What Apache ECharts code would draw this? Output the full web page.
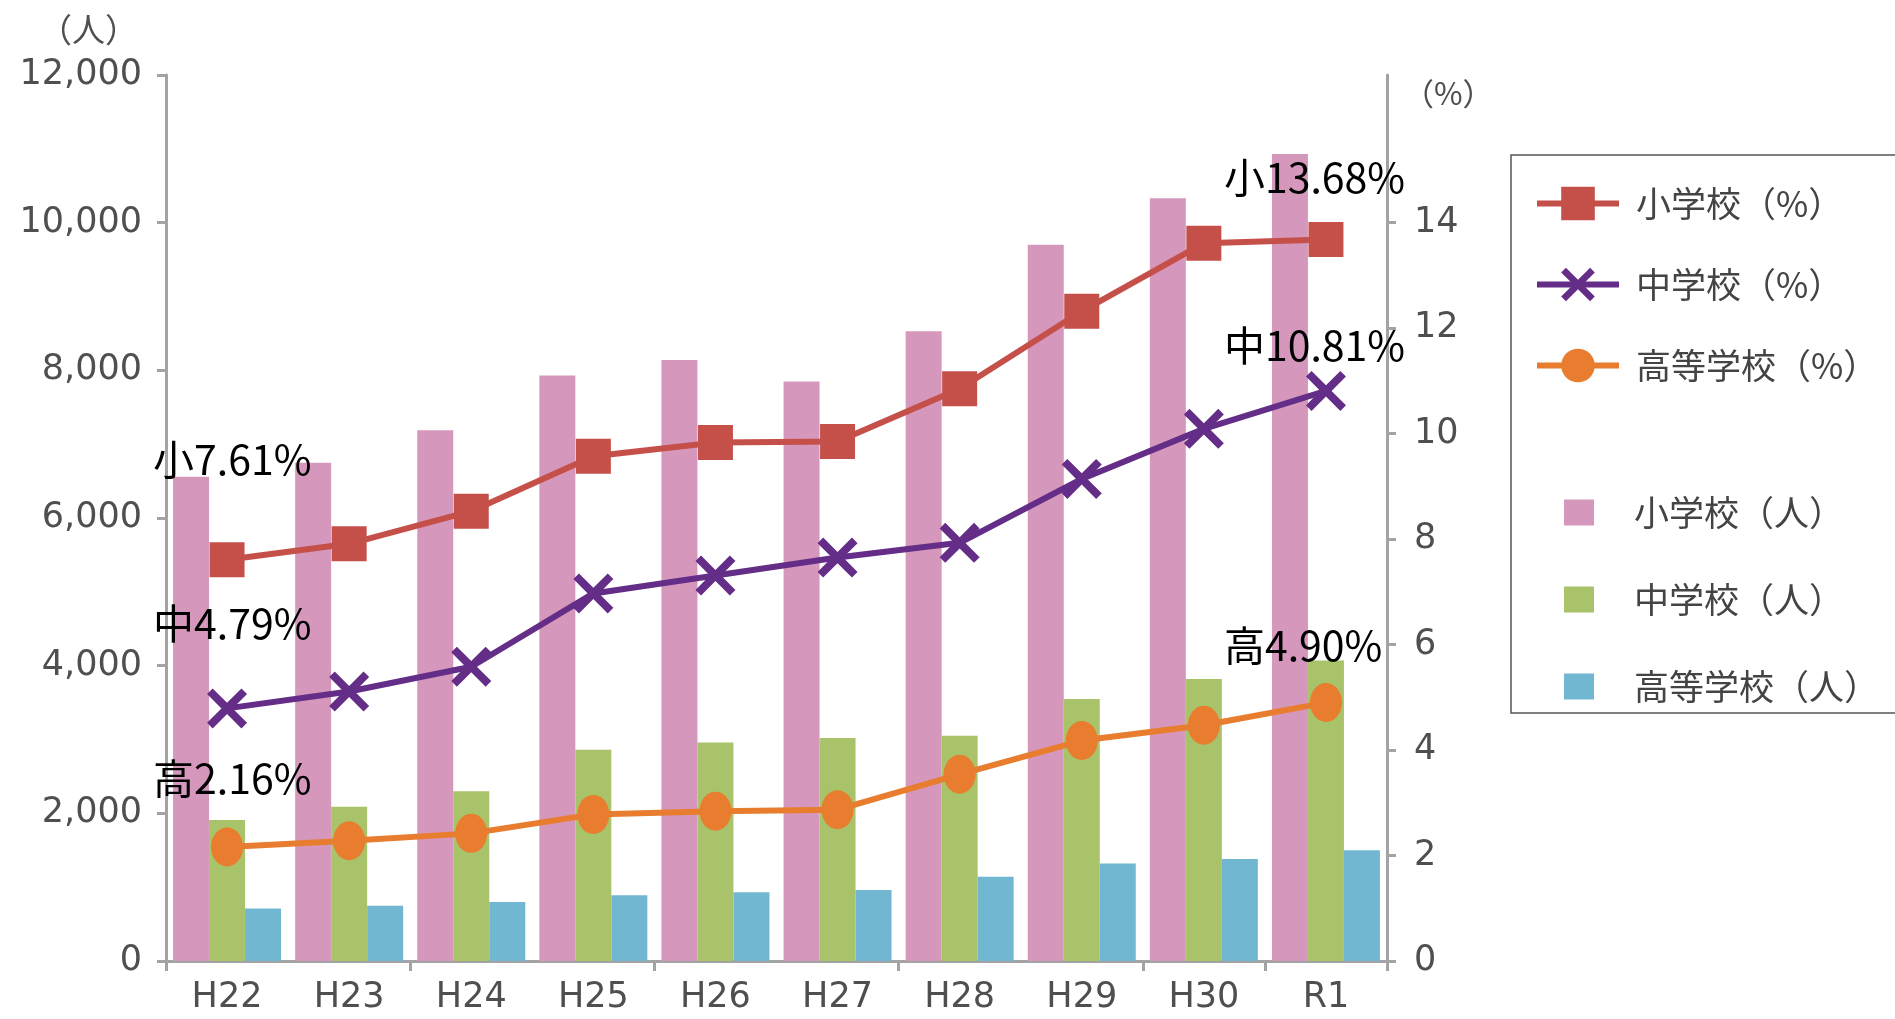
<!DOCTYPE html>
<html>
<head>
<meta charset="utf-8">
<script src="https://cdn.jsdelivr.net/npm/echarts@6/dist/echarts.min.js"></script>
<style>
  html, body { margin: 0; padding: 0; background: #fff; }
  #main { width: 1895px; height: 1019px; }
</style>
</head>
<body>
<div id="main"></div>
<script>
// Fiscal years (category axis)
const years = ['H22', 'H23', 'H24', 'H25', 'H26', 'H27', 'H28', 'H29', 'H30', 'R1'];

// Number of pupils (left axis, 人)
const elemCount   = [6560, 6750, 7190, 7930, 8140, 7850, 8530, 9700, 10330, 10930];
const juniorCount = [1910, 2090, 2300, 2860, 2960, 3020, 3050, 3550, 3820, 4070];
const highCount   = [710, 750, 800, 890, 930, 960, 1140, 1320, 1380, 1500];

// Rates (right axis, %)
const elemRate   = [7.61, 7.91, 8.53, 9.57, 9.83, 9.85, 10.85, 12.32, 13.61, 13.68];
const juniorRate = [4.79, 5.11, 5.58, 6.97, 7.31, 7.65, 7.93, 9.14, 10.09, 10.81];
const highRate   = [2.16, 2.28, 2.42, 2.78, 2.84, 2.87, 3.54, 4.18, 4.47, 4.90];

// Tick values
const countTicks = [0, 2000, 4000, 6000, 8000, 10000, 12000];
const rateTicks  = [0, 2, 4, 6, 8, 10, 12, 14];

const AXIS_GREY = '#a3a3a3';
const TICK_FONT = '"DejaVu Sans", "Noto Sans CJK JP", sans-serif';
const JP_FONT = '"Noto Sans CJK JP", sans-serif';

// thick "X" marker
const crossPath = 'path://M0,14 L14,0 L50,36 L86,0 L100,14 L64,50 L100,86 L86,100 L50,64 L14,100 L0,86 L36,50 Z';

// Attach an annotation label to the first and last point of a rate series
function withEndLabels(values, prefix, firstOffset, lastOffset) {
  return values.map((v, i) => {
    if (i === 0 || i === values.length - 1) {
      return {
        value: v,
        label: {
          show: true,
          position: 'inside',
          align: 'left',
          verticalAlign: 'middle',
          offset: i === 0 ? firstOffset : lastOffset,
          formatter: p => prefix + p.value.toFixed(2) + '%',
          color: '#000',
          fontSize: 41,
          fontFamily: JP_FONT
        }
      };
    }
    return v;
  });
}

const chart = echarts.init(document.getElementById('main'));

chart.setOption({
  animation: false,
  backgroundColor: '#fff',
  grid: { left: 166, right: 508, top: 75, bottom: 58 },
  xAxis: {
    type: 'category',
    data: years,
    boundaryGap: true,
    axisLine: { lineStyle: { color: AXIS_GREY, width: 3 } },
    axisTick: { show: true, interval: 1, length: 10, lineStyle: { color: AXIS_GREY, width: 3 } },
    axisLabel: { interval: 0, margin: 19, fontSize: 35, color: '#4f4f4f', fontFamily: TICK_FONT }
  },
  yAxis: [
    {
      type: 'value',
      position: 'left',
      min: 0,
      max: 12000,
      interval: 2000,
      name: '（人）',
      nameLocation: 'end',
      nameGap: 46,
      nameTextStyle: { fontSize: 33, color: '#4f4f4f', fontFamily: JP_FONT, align: 'right', verticalAlign: 'middle', padding: [0, 28, 0, 0] },
      axisLine: { show: true, lineStyle: { color: AXIS_GREY, width: 3 } },
      axisTick: { show: true, length: 9, lineStyle: { color: AXIS_GREY, width: 3 } },
      axisLabel: {
        margin: 24, fontSize: 35, color: '#4f4f4f', fontFamily: TICK_FONT,
        formatter: v => v.toLocaleString('en-US')
      },
      splitLine: { show: false }
    },
    {
      type: 'value',
      position: 'right',
      min: 0,
      max: 16.8,
      interval: 2,
      name: '（%）',
      nameLocation: 'end',
      nameGap: -18,
      nameTextStyle: { fontSize: 31, color: '#4f4f4f', fontFamily: JP_FONT, align: 'left', verticalAlign: 'middle', padding: [0, 0, 0, 16] },
      axisLine: { show: true, lineStyle: { color: AXIS_GREY, width: 3 } },
      axisTick: { show: true, length: 9, customValues: rateTicks, lineStyle: { color: AXIS_GREY, width: 3 } },
      axisLabel: { margin: 27, fontSize: 35, color: '#4f4f4f', fontFamily: TICK_FONT, customValues: rateTicks },
      splitLine: { show: false }
    }
  ],
  legend: [
    {
      data: ['小学校（%）', '中学校（%）', '高等学校（%）'],
      orient: 'vertical',
      left: 1529,
      top: 181,
      itemWidth: 82,
      itemHeight: 42,
      itemGap: 46,
      lineStyle: { width: 6 },
      textStyle: { fontSize: 35, color: '#444', fontFamily: JP_FONT, padding: [0, 0, 0, 12] }
    },
    {
      data: ['小学校（人）', '中学校（人）', '高等学校（人）'],
      orient: 'vertical',
      left: 1559,
      top: 490,
      icon: 'rect',
      itemWidth: 30,
      itemHeight: 26,
      itemGap: 52,
      textStyle: { fontSize: 35, color: '#444', fontFamily: JP_FONT, padding: [0, 0, 0, 35] }
    }
  ],
  graphic: [
    {
      type: 'rect',
      shape: { x: 1511, y: 155, width: 600, height: 558 },
      style: { fill: 'none', stroke: '#555', lineWidth: 1.5 },
      silent: true
    }
  ],
  series: [
    {
      name: '小学校（人）', type: 'bar', yAxisIndex: 0, data: elemCount,
      barWidth: 36, barGap: '0%', itemStyle: { color: '#D697BC' }
    },
    {
      name: '中学校（人）', type: 'bar', yAxisIndex: 0, data: juniorCount,
      barWidth: 36, barGap: '0%', itemStyle: { color: '#A8C36A' }
    },
    {
      name: '高等学校（人）', type: 'bar', yAxisIndex: 0, data: highCount,
      barWidth: 36, barGap: '0%', itemStyle: { color: '#72B7D1' }
    },
    {
      name: '小学校（%）', type: 'line', yAxisIndex: 1, z: 5,
      data: withEndLabels(elemRate, '小', [-74, -100], [-102, -62]),
      symbol: 'rect', symbolSize: 35,
      lineStyle: { color: '#C5504A', width: 6 },
      itemStyle: { color: '#C5504A' }
    },
    {
      name: '中学校（%）', type: 'line', yAxisIndex: 1, z: 5,
      data: withEndLabels(juniorRate, '中', [-74, -85], [-102, -45]),
      symbol: crossPath, symbolSize: 40,
      lineStyle: { color: '#642D87', width: 6 },
      itemStyle: { color: '#642D87' }
    },
    {
      name: '高等学校（%）', type: 'line', yAxisIndex: 1, z: 5,
      data: withEndLabels(highRate, '高', [-74, -69], [-102, -57]),
      symbol: 'circle', symbolSize: [32, 39],
      lineStyle: { color: '#E87D2F', width: 6 },
      itemStyle: { color: '#E87D2F' }
    }
  ]
});
</script>
</body>
</html>
